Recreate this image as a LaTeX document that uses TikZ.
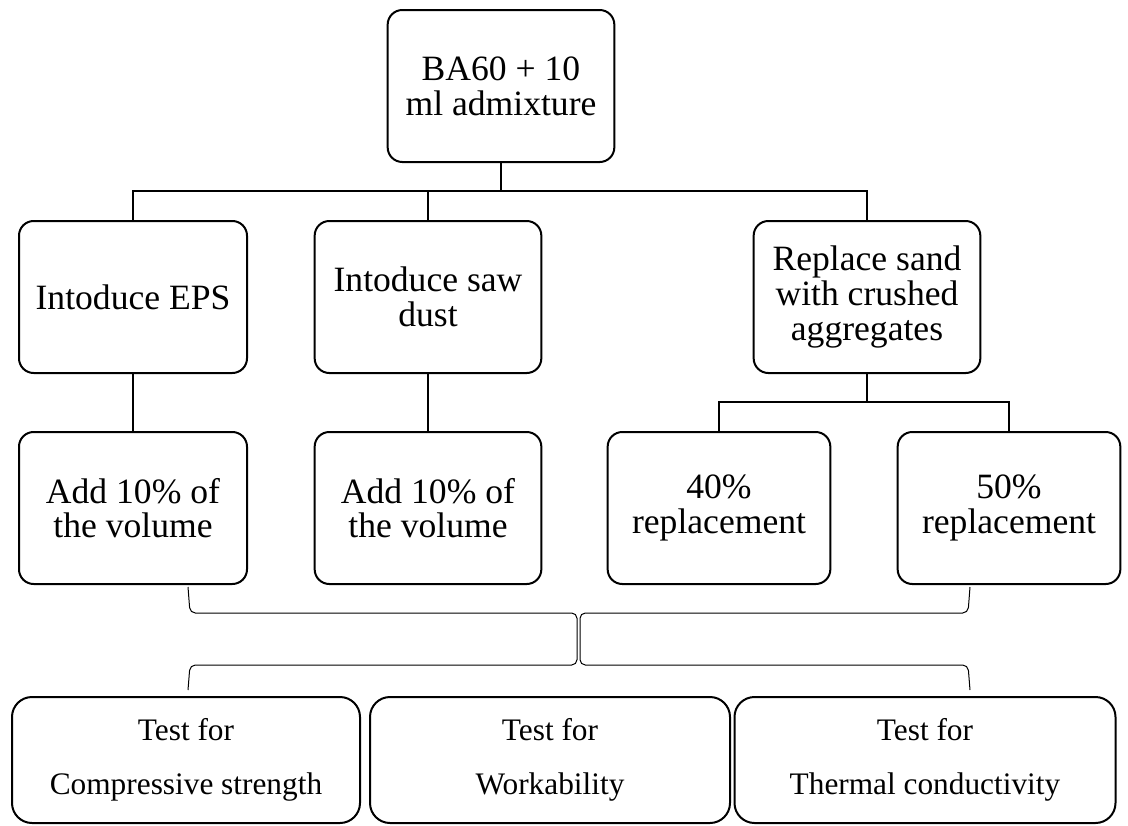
\documentclass[tikz,border=0pt]{standalone}
\usepackage{fontspec}
\setmainfont{Liberation Serif}
\begin{document}
\begin{tikzpicture}[x=0.75pt,y=-0.75pt,
  box/.style={draw, line width=1.5pt, rounded corners=11pt, align=center, inner sep=0pt,
    minimum width=170pt, minimum height=114pt, font=\fontsize{26.7}{26}\selectfont},
  testbox/.style={draw, line width=1.5pt, rounded corners=15pt, align=center, inner sep=0pt,
    minimum height=94.5pt, font=\fontsize{23.5}{40}\selectfont},
  conn/.style={line width=1.5pt},
  bracel/.style={line width=0.75pt, rounded corners=4pt}]
\useasboundingbox (0,0) rectangle (1128,825);

\node[box] (top) at (501,86) {BA60 + 10\\ml admixture};

\node[box, minimum width=171pt] (b1) at (133,297) {Intoduce EPS};
\node[box] (b2) at (428,297) {Intoduce saw\\dust};
\node[box] (b3) at (867,297) {Replace sand\\with crushed\\aggregates};

\node[box, minimum width=171pt] (c1) at (133,508) {Add 10\% of\\the volume};
\node[box] (c2) at (428,508) {Add 10\% of\\the volume};
\node[box, minimum width=167pt] (c3) at (719,508) {40\%\\replacement};
\node[box, minimum width=167pt] (c4) at (1009,508) {50\%\\replacement};

\node[testbox, minimum width=261pt] (d1) at (186,760) {Test for\\Compressive strength};
\node[testbox, minimum width=270pt] (d2) at (550,760) {Test for\\Workability};
\node[testbox, minimum width=285.75pt] (d3) at (925,760) {Test for\\Thermal conductivity};

\coordinate (bar) at (0,191);
\coordinate (bar2) at (0,402);
\draw[conn] (top.south) -- (top.south |- bar);
\draw[conn] (b1.north) -- (b1.north |- bar) -- (b3.north |- bar) -- (b3.north);
\draw[conn] (b2.north) -- (b2.north |- bar);
\draw[conn] (b1.south) -- (c1.north);
\draw[conn] (b2.south) -- (c2.north);
\draw[conn] (b3.south) -- (b3.south |- bar2);
\draw[conn] (c3.north) -- (c3.north |- bar2) -- (c4.north |- bar2) -- (c4.north);

% braces
\coordinate (la) at (188,587);
\coordinate (lb) at (190,613);
\coordinate (lc) at (577,613);
\coordinate (ld) at (577,665);
\coordinate (le) at (190,665);
\coordinate (lf) at (188,690);
\coordinate (ra) at (970,587);
\coordinate (rb) at (968,613);
\coordinate (rc) at (580,613);
\coordinate (rd) at (580,665);
\coordinate (re) at (968,665);
\coordinate (rf) at (970,690);
\draw[bracel] (la) -- (lb) -- (lc) -- (ld) -- (le) -- (lf);
\draw[bracel] (ra) -- (rb) -- (rc) -- (rd) -- (re) -- (rf);
\end{tikzpicture}
\end{document}
